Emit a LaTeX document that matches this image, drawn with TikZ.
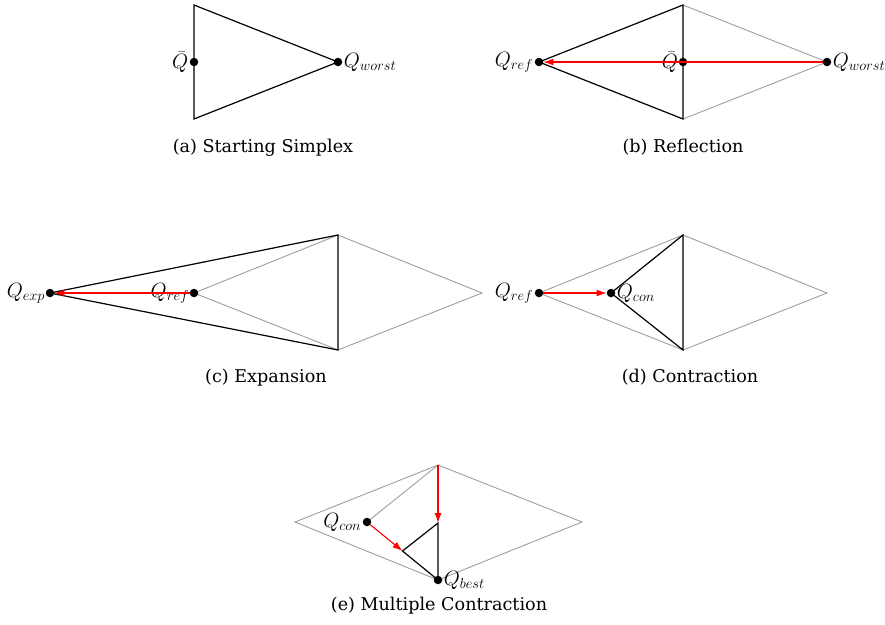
\documentclass[tikz,border=0pt]{standalone}
\usepackage{fontspec}
\setmainfont{DejaVu Serif}
\usetikzlibrary{arrows.meta}
\begin{document}
\begin{tikzpicture}[x=1pt,y=-1pt,
  blk/.style={line width=1.2pt, black},
  gry/.style={line width=0.9pt, black!38},
  redarr/.style={line width=1.1pt, red, -{Latex[length=10pt,width=7pt]}},
  dot/.style={circle, fill=black, inner sep=0pt, minimum size=8.5pt},
  captext/.style={font=\fontsize{17.6}{21}\selectfont, anchor=base},
  lab/.style={font=\fontsize{20.5}{24}\selectfont, inner sep=1.2pt},
]
\useasboundingbox (0,0) rectangle (885,624);
% ---------- (a) Starting Simplex
\coordinate (aT) at (194,5); \coordinate (aB) at (194,119);
\coordinate (aw) at (338,62); \coordinate (aq) at (194,62);
\draw[blk] (aT) -- (aB) -- (aw) -- cycle;
\node[dot, label={[lab]left:$\bar{Q}$}] (aQ) at (aq) {};
\node[dot, label={[lab]right:$Q_{worst}$}] (aW) at (aw) {};
\node[captext] (capa) at (263,152) {(a) Starting Simplex};
% ---------- (b) Reflection
\coordinate (bT) at (683,5); \coordinate (bB) at (683,119);
\coordinate (br) at (539,62); \coordinate (bw) at (827,62); \coordinate (bq) at (683,62);
\draw[gry] (bT) -- (bw) -- (bB);
\draw[blk] (br) -- (bT) -- (bB) -- cycle;
\node[dot, label={[lab]left:$Q_{ref}$}] (bR) at (br) {};
\node[dot, label={[lab, inner sep=0.3pt]left:$\bar{Q}$}] (bQ) at (bq) {};
\node[dot, label={[lab]right:$Q_{worst}$}] (bW) at (bw) {};
\draw[redarr] (bW) -- (bR);
\node[captext] (capb) at (683,152) {(b) Reflection};
% ---------- (c) Expansion
\coordinate (cT) at (338,235); \coordinate (cB) at (338,350);
\coordinate (ce) at (50,293); \coordinate (cr) at (194,293); \coordinate (cRt) at (482,293);
\draw[gry] (cr) -- (cT) -- (cRt) -- (cB) -- (cr);
\draw[blk] (ce) -- (cT) -- (cB) -- cycle;
\node[dot, label={[lab, inner sep=0.3pt]left:$Q_{exp}$}] (cE) at (ce) {};
\node[dot, label={[lab, inner sep=0.3pt]left:$Q_{ref}$}] (cR) at (cr) {};
\draw[redarr] (cR) -- (cE);
\node[captext] (capc) at (266,382) {(c) Expansion};
% ---------- (d) Contraction
\coordinate (dT) at (683,235); \coordinate (dB) at (683,350);
\coordinate (dr) at (539,293); \coordinate (dc) at (611,293); \coordinate (dRt) at (827,293);
\draw[gry] (dr) -- (dT) -- (dRt) -- (dB) -- (dr);
\draw[blk] (dc) -- (dT) -- (dB) -- cycle;
\node[dot, label={[lab]left:$Q_{ref}$}] (dR) at (dr) {};
\node[dot, label={[lab]right:$Q_{con}$}] (dC) at (dc) {};
\draw[redarr] (dR) -- (dC);
\node[captext] (capd) at (690,382) {(d) Contraction};
% ---------- (e) Multiple Contraction
\coordinate (eT) at (438,465); \coordinate (eL) at (295,522);
\coordinate (eRt) at (582,522); \coordinate (eb) at (438,580);
\coordinate (ec) at (367,522);
\coordinate (eM1) at (438,523); \coordinate (eM2) at (402.5,551);
\draw[gry] (eL) -- (eT) -- (eRt) -- (eb) -- cycle;
\draw[gry] (ec) -- (eT);
\draw[blk] (eM1) -- (eM2) -- (eb) -- cycle;
\node[dot, label={[lab]left:$Q_{con}$}] (eC) at (ec) {};
\node[dot, label={[lab]right:$Q_{best}$}] (eB) at (eb) {};
\draw[redarr] (eT) -- (eM1);
\draw[redarr] (eC) -- (eM2);
\node[captext] (cape) at (439,610) {(e) Multiple Contraction};
\end{tikzpicture}
\end{document}
